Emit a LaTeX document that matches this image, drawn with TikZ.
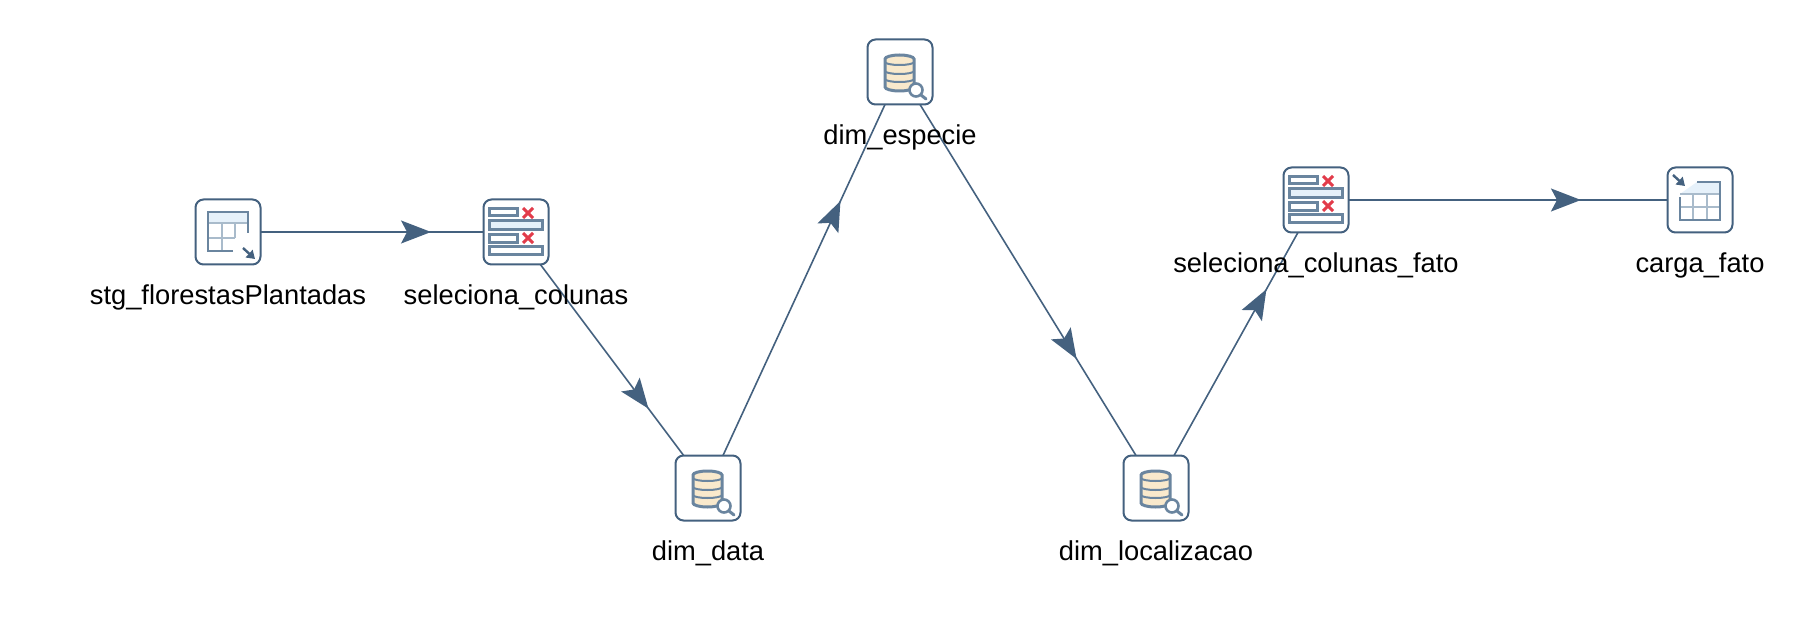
\documentclass[tikz,border=0pt]{standalone}
\usepackage{xcolor}
\usepackage{fontspec}
\setmainfont{Liberation Sans}
\usetikzlibrary{positioning,arrows.meta,decorations.markings,backgrounds}
\definecolor{hopblue}{HTML}{44617F}
\definecolor{iconblue}{HTML}{6A859F}
\definecolor{gridblue}{HTML}{A9BBCB}
\definecolor{headblue}{HTML}{E6F1FA}
\definecolor{dbcream}{HTML}{F9E9CC}
\definecolor{crossred}{HTML}{E23B4A}

\tikzset{
    pics/tablein/.style={code={
        \fill[headblue] (-20,-20) rectangle (20,-9);
        \draw[gridblue, line width=2pt] (-20,-9) -- (20,-9) (-20,6) -- (7,6) (-6,-9) -- (-6,19) (7,-9) -- (7,6);
        \draw[iconblue, line width=2.6pt] (5,19) -- (-20,19) -- (-20,-20) -- (20,-20) -- (20,1);
        \draw[hopblue, line width=2.4pt, -{Stealth[length=8pt,width=10pt,inset=0pt]}] (15,16) -- (27,27);
    }},
    pics/tableout/.style={code={
        \fill[headblue] (-3,-18) -- (20,-18) -- (20,-6) -- (-20,-6) -- cycle;
        \draw[gridblue, line width=2pt] (-20,-6) -- (20,-6) (-20,7) -- (20,7) (-7,-6) -- (-7,20) (7,-6) -- (7,20);
        \draw[iconblue, line width=2.6pt] (-3,-18) -- (20,-18) -- (20,20) -- (-20,20) -- (-20,-3);
        \draw[hopblue, line width=2.4pt, -{Stealth[length=8pt,width=10pt,inset=0pt]}] (-27,-25) -- (-15,-14);
    }},
    pics/selectcols/.style={code={
        \draw[iconblue, line width=3pt, fill=white] (-27,-23) rectangle (1,-16);
        \draw[iconblue, line width=3pt, fill=headblue] (-27,-11) rectangle (26,-2);
        \draw[iconblue, line width=3pt, fill=white] (-27,3) rectangle (1,11);
        \draw[iconblue, line width=3pt, fill=white] (-27,15) rectangle (26,23);
        \draw[crossred, line width=3pt] (7,-24) -- (17,-14) (17,-24) -- (7,-14);
        \draw[crossred, line width=3pt] (7,1) -- (17,11) (17,1) -- (7,11);
    }},
    pics/dblookup/.style={code={
        \draw[iconblue, line width=3pt, fill=dbcream] (-15,-13) -- (-15,15) arc[start angle=180, end angle=0, x radius=14.5, y radius=4] -- (14,-13) arc[start angle=0, end angle=-180, x radius=14.5, y radius=4] -- cycle;
        \draw[iconblue, line width=2pt] (-15,-10) arc[start angle=180, end angle=0, x radius=14.5, y radius=3];
        \draw[iconblue, line width=2pt] (-15,-1) arc[start angle=180, end angle=0, x radius=14.5, y radius=3];
        \draw[iconblue, line width=2pt] (-15,7) arc[start angle=180, end angle=0, x radius=14.5, y radius=3];
        \draw[iconblue, line width=2.6pt, fill=white] (16,18) circle[radius=6.5];
        \draw[iconblue, line width=3pt, line cap=round] (21,23) -- (26,27);
    }}
}

\begin{document}
\begin{tikzpicture}[
    x=1pt, y=-1pt,
    stepbox/.style={draw=hopblue, line width=2pt, rounded corners=8pt, fill=white, minimum size=65pt, inner sep=0pt},
    caption/.style={font=\fontsize{27.3}{30}\selectfont, text=black, inner sep=0pt, text height=19pt, text depth=6pt, below=20pt of #1},
    hop/.style={draw=hopblue, line width=1.6pt, postaction={decorate}, decoration={markings,
        mark=at position #1 with {\arrow{Stealth[length=30pt,width=23pt,inset=6pt]}}}},
    hop/.default=0.69
]
\useasboundingbox (0,0) rectangle (1812,628);

\node[stepbox] (stg) at (228,232) {};
\node[stepbox] (selcols) at (516,232) {};
\node[stepbox] (dimdata) at (708,488) {};
\node[stepbox] (dimespecie) at (900,72) {};
\node[stepbox] (dimlocal) at (1156,488) {};
\node[stepbox] (selfato) at (1316,200) {};
\node[stepbox] (carga) at (1700,200) {};

\pic at (stg) {tablein};
\pic at (selcols) {selectcols};
\pic at (dimdata) {dblookup};
\pic at (dimespecie) {dblookup};
\pic at (dimlocal) {dblookup};
\pic at (selfato) {selectcols};
\pic at (carga) {tableout};

\node[caption=stg] (stglabel) {stg\_florestasPlantadas};
\node[caption=selcols] (selcolslabel) {seleciona\_colunas};
\node[caption=dimdata] (dimdatalabel) {dim\_data};
\node[caption=dimespecie] (dimespecielabel) {dim\_especie};
\node[caption=dimlocal] (dimlocallabel) {dim\_localizacao};
\node[caption=selfato] (selfatolabel) {seleciona\_colunas\_fato};
\node[caption=carga] (cargalabel) {carga\_fato};

\begin{scope}[on background layer]
\draw[hop=0.705] (stg.center) -- (selcols.center);
\draw[hop] (selcols.center) -- (dimdata.center);
\draw[hop] (dimdata.center) -- (dimespecie.center);
\draw[hop] (dimespecie.center) -- (dimlocal.center);
\draw[hop] (dimlocal.center) -- (selfato.center);
\draw[hop] (selfato.center) -- (carga.center);
\end{scope}
\end{tikzpicture}
\end{document}
